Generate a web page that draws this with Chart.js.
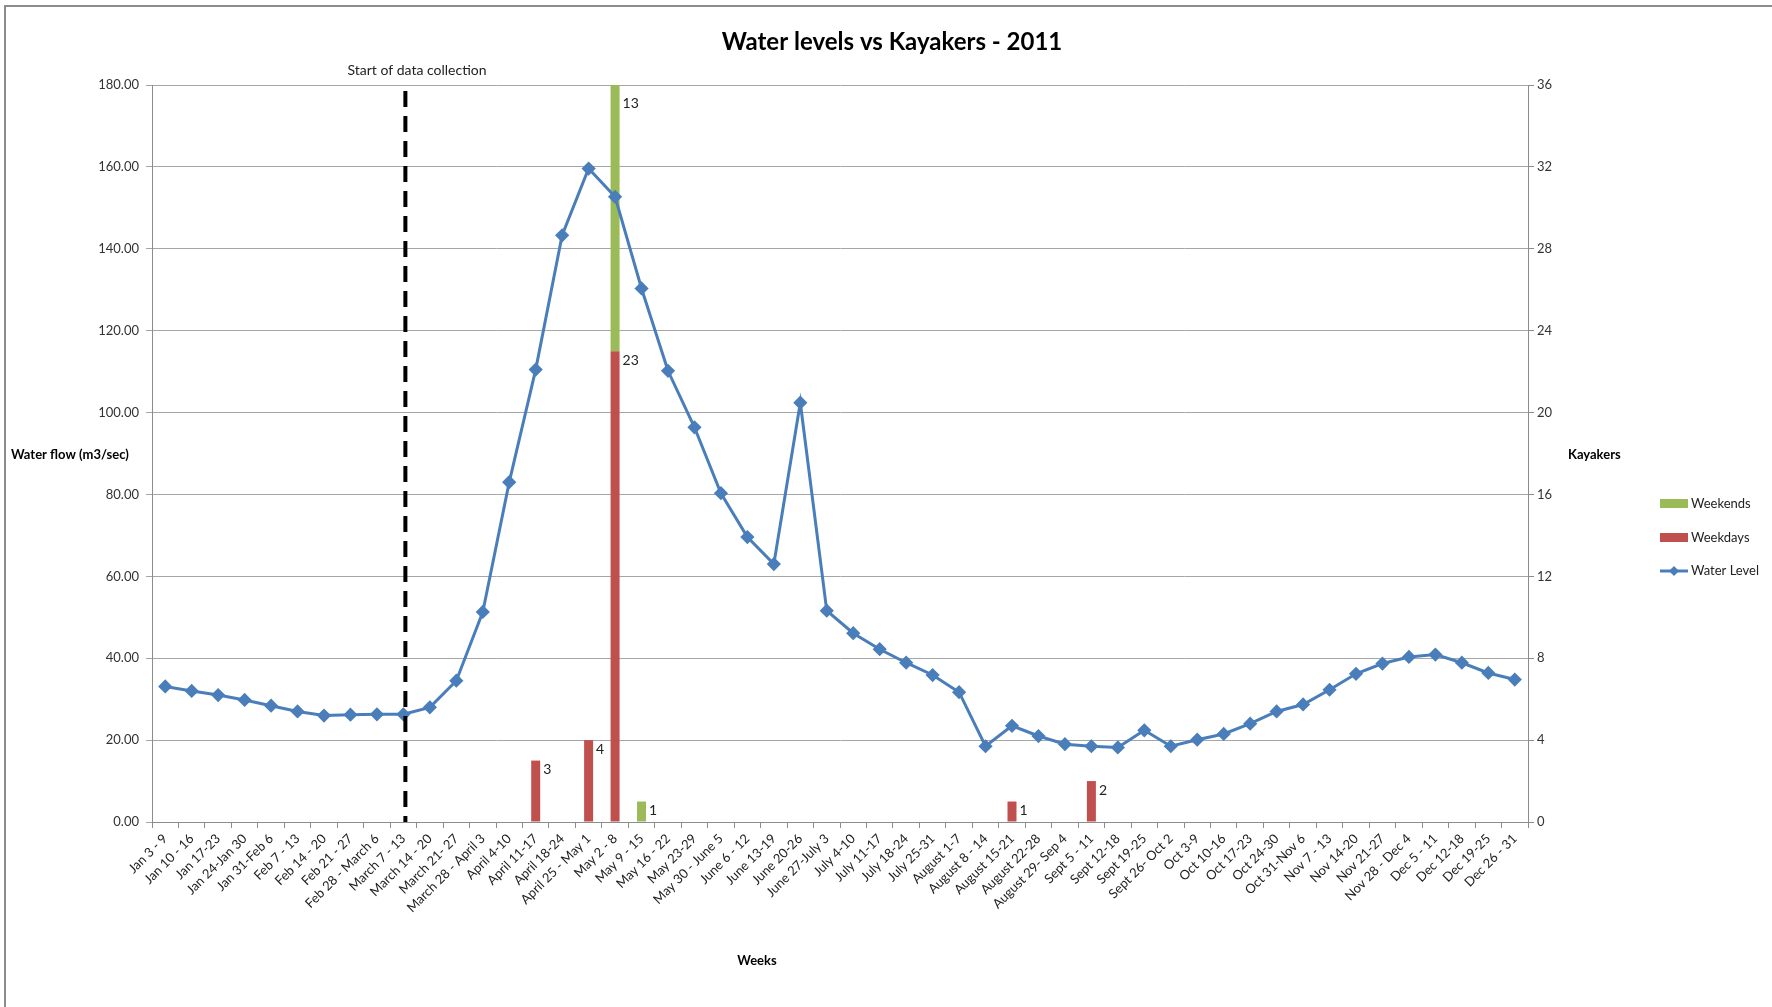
<!DOCTYPE html>
<html>
<head>
<meta charset="utf-8">
<title>Water levels vs Kayakers - 2011</title>
<script src="https://cdn.jsdelivr.net/npm/chart.js@4.4.1/dist/chart.umd.min.js"></script>
<style>
  html, body { margin: 0; padding: 0; background: #fff; }
  #wrap { position: relative; width: 1772px; height: 1007px; }
</style>
</head>
<body>
<div id="wrap"><canvas id="plot" width="1772" height="1007"></canvas></div>
<script>
// Semanas del 2011 (eje x)
let weeks = [
  "Jan 3 - 9", "Jan 10 - 16", "Jan 17-23", "Jan 24-Jan 30", "Jan 31-Feb 6", "Feb 7 - 13",
  "Feb 14 - 20", "Feb 21 - 27", "Feb 28 - March 6", "March 7 - 13", "March 14 - 20",
  "March 21- 27", "March 28 - April 3", "April 4-10", "April 11-17", "April 18-24",
  "April 25 - May 1", "May 2 - 8", "May 9 - 15", "May 16 - 22", "May 23-29",
  "May 30 - June 5", "June 6 - 12", "June 13-19", "June 20-26", "June 27-July 3",
  "July 4-10", "July 11-17", "July 18-24", "July 25-31", "August 1-7", "August 8 - 14",
  "August 15-21", "August 22-28", "August 29- Sep 4", "Sept 5 - 11", "Sept 12-18",
  "Sept 19-25", "Sept 26- Oct 2", "Oct 3-9", "Oct 10-16", "Oct 17-23", "Oct 24-30",
  "Oct 31-Nov 6", "Nov 7 - 13", "Nov 14-20", "Nov 21-27", "Nov 28 - Dec 4",
  "Dec 5 - 11", "Dec 12-18", "Dec 19-25", "Dec 26 - 31"
];

// Caudal semanal [m3/sec]
let waterLevel = [
  33.1, 32.0, 31.0, 29.8, 28.4, 27.0, 26.0, 26.2, 26.3, 26.3,
  28.0, 34.5, 51.3, 83.0, 110.5, 143.3, 159.6, 152.7, 130.3, 110.2,
  96.4, 80.3, 69.6, 63.0, 102.4, 51.6, 46.1, 42.2, 38.9, 35.9,
  31.7, 18.5, 23.5, 21.0, 19.0, 18.5, 18.2, 22.4, 18.5, 20.1,
  21.5, 24.0, 27.0, 28.7, 32.3, 36.2, 38.7, 40.3, 40.9, 38.9,
  36.4, 34.8
];

// Kayakers por semana
let weekdays = [
  null, null, null, null, null, null, null, null, null, null,
  null, null, null, null, 3, null, 4, 23, null, null,
  null, null, null, null, null, null, null, null, null, null,
  null, null, 1, null, null, 2, null, null, null, null,
  null, null, null, null, null, null, null, null, null, null,
  null, null
];
let weekends = [
  null, null, null, null, null, null, null, null, null, null,
  null, null, null, null, null, null, null, 13, 1, null,
  null, null, null, null, null, null, null, null, null, null,
  null, null, null, null, null, null, null, null, null, null,
  null, null, null, null, null, null, null, null, null, null,
  null, null
];

let startWeek = "March 7 - 13";

let fuente = "Lato, 'Open Sans', sans-serif";
let azul = "#4a7ebb";
let rojo = "#c0504d";
let verde = "#9bbb59";

// Dibujos extra: marco, titulo, etiquetas, linea punteada, leyenda
let extras = {
  id: "extras",
  afterDatasetsDraw: (chart) => {
    let ctx = chart.ctx;
    let area = chart.chartArea;
    let x = chart.scales.x;

    // linea de inicio de toma de datos
    let xs = x.getPixelForValue(weeks.indexOf(startWeek)) + 2;
    ctx.save();
    ctx.strokeStyle = "#000";
    ctx.lineWidth = 4;
    ctx.setLineDash([16, 9]);
    ctx.beginPath();
    ctx.moveTo(xs, area.top + 6);
    ctx.lineTo(xs, area.bottom);
    ctx.stroke();
    ctx.restore();

    // etiquetas de las barras
    ctx.save();
    ctx.font = "14px " + fuente;
    ctx.fillStyle = "#222";
    ctx.textAlign = "left";
    ctx.textBaseline = "middle";
    [0, 1].forEach(i => {
      let meta = chart.getDatasetMeta(i);
      let data = chart.data.datasets[i].data;
      meta.data.forEach((bar, j) => {
        if (data[j] == null) return;
        let y = Math.max(bar.y + 9, area.top + 18);
        ctx.fillText(String(data[j]), bar.x + bar.width / 2 + 3, y);
      });
    });
    ctx.restore();
  },
  afterDraw: (chart) => {
    let ctx = chart.ctx;
    ctx.save();

    // marco
    ctx.strokeStyle = "#8c8c8c";
    ctx.lineWidth = 2;
    ctx.beginPath();
    ctx.moveTo(5, 1007);
    ctx.lineTo(5, 6);
    ctx.lineTo(1772, 6);
    ctx.stroke();

    ctx.fillStyle = "#000";
    ctx.textBaseline = "middle";

    // titulo
    ctx.font = "bold 24px " + fuente;
    ctx.textAlign = "center";
    ctx.fillText("Water levels vs Kayakers - 2011", 892, 42);

    // texto de la linea punteada
    ctx.font = "14px " + fuente;
    ctx.fillStyle = "#222";
    ctx.fillText("Start of data collection", 417, 70);

    // titulos de ejes
    ctx.fillStyle = "#000";
    ctx.font = "bold 13px " + fuente;
    ctx.textAlign = "left";
    ctx.fillText("Water flow (m3/sec)", 11, 455);
    ctx.fillText("Kayakers", 1568, 455);
    ctx.textAlign = "center";
    ctx.fillText("Weeks", 757, 961);

    // leyenda
    ctx.font = "13px " + fuente;
    ctx.textAlign = "left";
    ctx.fillStyle = verde;
    ctx.fillRect(1660, 499, 28, 9);
    ctx.fillStyle = rojo;
    ctx.fillRect(1660, 533, 28, 9);
    ctx.strokeStyle = azul;
    ctx.lineWidth = 3;
    ctx.beginPath();
    ctx.moveTo(1660, 571);
    ctx.lineTo(1688, 571);
    ctx.stroke();
    ctx.fillStyle = azul;
    ctx.beginPath();
    ctx.moveTo(1674, 566);
    ctx.lineTo(1679, 571);
    ctx.lineTo(1674, 576);
    ctx.lineTo(1669, 571);
    ctx.closePath();
    ctx.fill();
    ctx.fillStyle = "#222";
    ctx.fillText("Weekends", 1691, 504);
    ctx.fillText("Weekdays", 1691, 538);
    ctx.fillText("Water Level", 1691, 571);

    ctx.restore();
  }
};

let cargarGrafico = () => {
  let plotRef = document.getElementById("plot");

  let config = {
    type: "bar",
    data: {
      labels: weeks,
      datasets: [
        {
          label: "Weekdays",
          data: weekdays,
          backgroundColor: rojo,
          yAxisID: "y1",
          stack: "kayakers",
          order: 1,
          barPercentage: 0.34,
          categoryPercentage: 1
        },
        {
          label: "Weekends",
          data: weekends,
          backgroundColor: verde,
          yAxisID: "y1",
          stack: "kayakers",
          order: 1,
          barPercentage: 0.34,
          categoryPercentage: 1
        },
        {
          type: "line",
          label: "Water Level",
          data: waterLevel,
          borderColor: azul,
          backgroundColor: azul,
          borderWidth: 3,
          pointStyle: "rectRot",
          pointRadius: 5,
          yAxisID: "y",
          order: 0,
          tension: 0
        }
      ]
    },
    options: {
      responsive: false,
      animation: false,
      devicePixelRatio: 1,
      layout: { padding: { top: 85, left: 0, right: 0, bottom: 0 } },
      plugins: {
        legend: { display: false },
        title: { display: false },
        tooltip: { enabled: false }
      },
      scales: {
        x: {
          offset: true,
          grid: { drawOnChartArea: false, drawTicks: true, tickLength: 6, color: "#8c8c8c", offset: true },
          border: { color: "#8c8c8c" },
          ticks: {
            autoSkip: false,
            minRotation: 45,
            maxRotation: 45,
            color: "#222",
            font: { family: fuente, size: 13 }
          },
          afterFit: (scale) => { scale.height = 185; }
        },
        y: {
          position: "left",
          min: 0,
          max: 180,
          ticks: {
            stepSize: 20,
            color: "#333",
            padding: 7,
            font: { family: fuente, size: 13 },
            callback: (v) => v.toFixed(2)
          },
          grid: { color: "#a6a6a6", tickLength: 6 },
          border: { color: "#8c8c8c" },
          afterFit: (scale) => { scale.width = 152; }
        },
        y1: {
          position: "right",
          min: 0,
          max: 36,
          stacked: true,
          ticks: {
            stepSize: 4,
            color: "#333",
            font: { family: fuente, size: 13 }
          },
          grid: { drawOnChartArea: false, tickLength: 6, color: "#8c8c8c" },
          border: { color: "#8c8c8c" },
          afterFit: (scale) => { scale.width = 244; }
        }
      }
    },
    plugins: [extras]
  };

  let chart1 = new Chart(plotRef, config);
};

cargarGrafico();
</script>
</body>
</html>
